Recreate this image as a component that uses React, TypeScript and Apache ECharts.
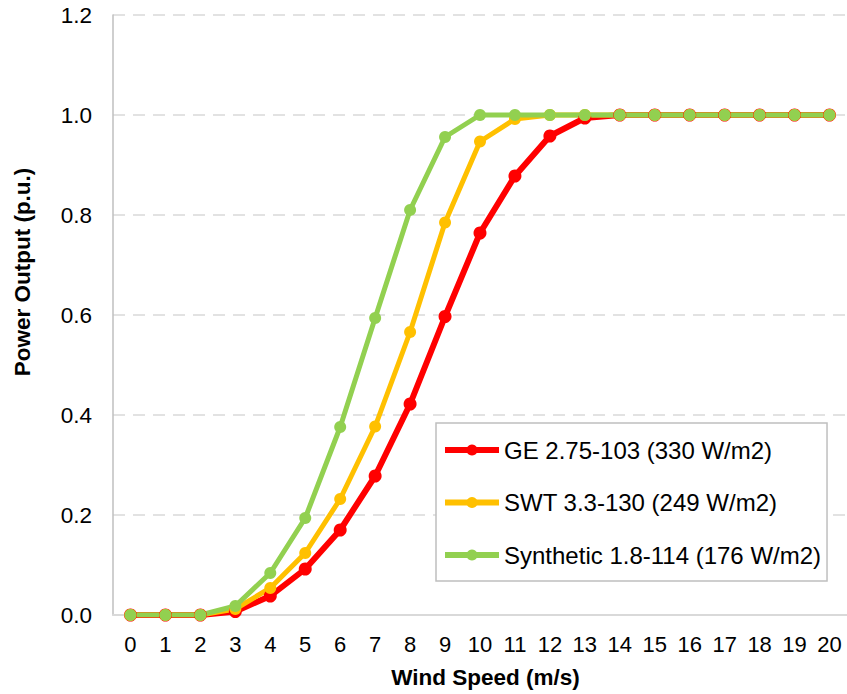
import React, { useEffect, useRef } from "react";
import * as echarts from "echarts";

const windSpeeds = ["0","1","2","3","4","5","6","7","8","9","10","11","12","13","14","15","16","17","18","19","20"];
const geValues = [0, 0, 0, 0.007, 0.038, 0.092, 0.17, 0.278, 0.422, 0.597, 0.764, 0.878, 0.958, 0.994, 1, 1, 1, 1, 1, 1, 1];
const swtValues = [0, 0, 0, 0.012, 0.054, 0.124, 0.232, 0.377, 0.566, 0.785, 0.947, 0.992, 1, 1, 1, 1, 1, 1, 1, 1, 1];
const synValues = [0, 0, 0, 0.018, 0.084, 0.194, 0.376, 0.594, 0.81, 0.956, 1, 1, 1, 1, 1, 1, 1, 1, 1, 1, 1];
const seriesNames = ["GE 2.75-103 (330 W/m2)", "SWT 3.3-130 (249 W/m2)", "Synthetic 1.8-114 (176 W/m2)"];
const xTitle = "Wind Speed (m/s)";
const yTitle = "Power Output (p.u.)";

export default function App() {
  const ref = useRef<HTMLDivElement>(null);
  useEffect(() => {
    if (!ref.current) return;
    const chart = echarts.init(ref.current, null, { renderer: "svg" });
    const font = "Liberation Sans, Arial, sans-serif";
    const mk = (name: string, data: number[], color: string, width: number, size: number) => ({
      name,
      type: "line",
      data,
      symbol: "circle",
      symbolSize: size,
      itemStyle: { color },
      lineStyle: { color, width },
    });
    chart.setOption({
      animation: false,
      textStyle: { fontFamily: font },
      grid: { left: 113, top: 15, width: 735, height: 600, containLabel: false },
      legend: {
        orient: "vertical",
        left: 436,
        top: 423,
        padding: [15, 6, 14, 6],
        itemGap: 28.5,
        itemWidth: 54,
        itemHeight: 14,
        borderColor: "#BFBFBF",
        borderWidth: 1.5,
        backgroundColor: "#fff",
        lineStyle: { width: 6 },
        textStyle: { fontSize: 24, color: "#000", fontFamily: font, lineHeight: 24 },
        data: seriesNames,
      },
      graphic: [
        {
          type: "text",
          x: 22,
          y: 272,
          rotation: Math.PI / 2,
          style: {
            text: yTitle,
            fontSize: 22.5,
            fontWeight: "bold",
            fontFamily: font,
            fill: "#000",
            align: "center",
            verticalAlign: "middle",
          },
        },
      ],
      xAxis: {
        type: "category",
        data: windSpeeds,
        boundaryGap: true,
        name: xTitle,
        nameLocation: "middle",
        nameGap: 51,
        nameTextStyle: { fontSize: 22.5, fontWeight: "bold", color: "#000", fontFamily: font, padding: [0, 0, 0, 11] },
        axisLine: { lineStyle: { color: "#D9D9D9", width: 2 } },
        axisTick: { show: false },
        axisLabel: { fontSize: 22, color: "#000", margin: 18, interval: 0 },
        splitLine: { show: false },
      },
      yAxis: {
        type: "value",
        min: 0,
        max: 1.2,
        interval: 0.2,
        axisLine: { show: true, lineStyle: { color: "#BFBFBF", width: 1.5 } },
        axisTick: { show: false },
        axisLabel: { fontSize: 22.5, color: "#000", margin: 21, formatter: (v: number) => v.toFixed(1) },
        splitLine: { show: true, lineStyle: { color: "#D9D9D9", width: 1.5, type: [12, 8] } },
      },
      series: [
        mk(seriesNames[0], geValues, "#FF0000", 6, 13),
        mk(seriesNames[1], swtValues, "#FFC000", 5, 12),
        mk(seriesNames[2], synValues, "#92D050", 5, 12),
      ],
    });
    return () => chart.dispose();
  }, []);
  return <div ref={ref} style={{ width: 847, height: 694, position: "absolute", left: 0, top: 0 }} />;
}
